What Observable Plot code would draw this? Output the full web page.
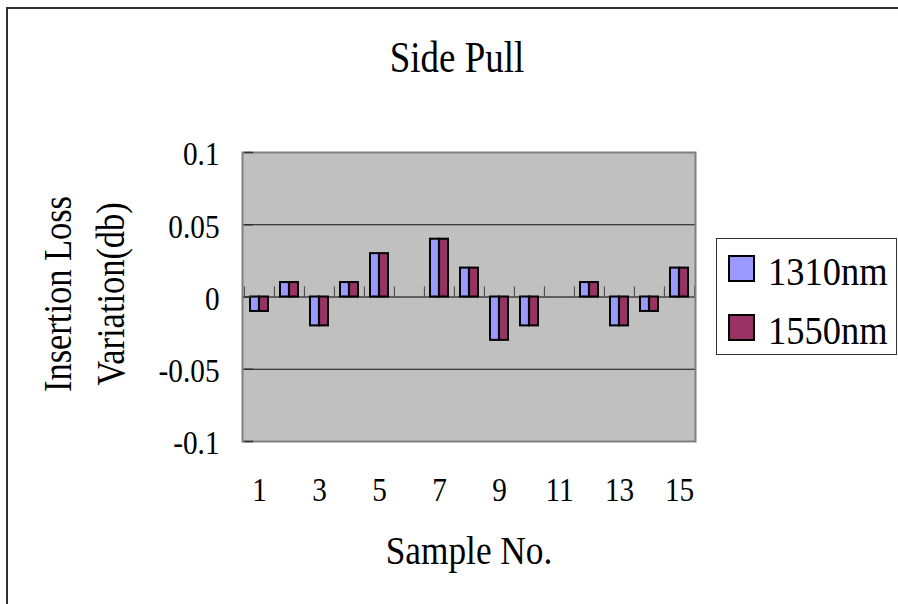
<!DOCTYPE html>
<html>
<head>
<meta charset="utf-8">
<script src="https://cdn.jsdelivr.net/npm/d3@7"></script>
<script src="https://cdn.jsdelivr.net/npm/@observablehq/plot@0.6"></script>
<style>
  html, body { margin: 0; padding: 0; background: #fff; }
  #wrap { position: relative; width: 898px; height: 604px; overflow: hidden; font-family: "Liberation Serif", serif; color: #000; }
  #wrap svg { position: absolute; left: 0; top: 0; }
  .frame { position: absolute; left: 6px; top: 7px; width: 1000px; height: 1000px; border-left: 2px solid #303030; border-top: 2px solid #303030; }
  .title { position: absolute; left: 257px; width: 400px; top: 35px; text-align: center; font-size: 45px; line-height: 45px; transform: scaleX(0.82); transform-origin: 200px 0; white-space: nowrap; }
  .legend { position: absolute; left: 716px; top: 238px; width: 181px; height: 117px; box-sizing: border-box; border: 1.5px solid #333; background: #fff; }
  .sw { position: absolute; left: 728px; width: 27px; height: 27px; box-sizing: border-box; border: 2px solid #000; }
  .lt { position: absolute; left: 768px; font-size: 41px; line-height: 41px; white-space: nowrap; transform: scaleX(0.89); transform-origin: 0 0; }
</style>
</head>
<body>
<div id="wrap"></div>
<script>
const titleText = "Side Pull";
const samples = [1, 2, 3, 4, 5, 6, 7, 8, 9, 10, 11, 12, 13, 14, 15];
const loss1310 = [-0.01, 0.01, -0.02, 0.01, 0.03, 0, 0.04, 0.02, -0.03, -0.02, 0, 0.01, -0.02, -0.01, 0.02];
const loss1550 = [-0.01, 0.01, -0.02, 0.01, 0.03, 0, 0.04, 0.02, -0.03, -0.02, 0, 0.01, -0.02, -0.01, 0.02];
const series = ["1310nm", "1550nm"];
const seriesColors = ["#9999FF", "#993366"];
const xTickLabels = [1, 3, 5, 7, 9, 11, 13, 15];
const yTicks = [-0.1, -0.05, 0, 0.05, 0.1];
const yTickLabels = ["-0.1", "-0.05", "0", "0.05", "0.1"];
const xTitle = "Sample No.";
const yTitle = "Insertion Loss\nVariation(db)";

const rows1310 = samples.map((s, i) => ({sample: s, value: loss1310[i]}));
const rows1550 = samples.map((s, i) => ({sample: s, value: loss1550[i]}));

const font = "Liberation Serif";

const chart = Plot.plot({
  width: 898,
  height: 604,
  marginLeft: 242,
  marginRight: 203,
  marginTop: 152,
  marginBottom: 163,
  style: {fontFamily: font, fontSize: "34px", color: "#000", background: "transparent", overflow: "visible"},
  x: {type: "band", domain: samples, padding: 0},
  y: {domain: [-0.1, 0.1]},
  marks: [
    Plot.frame({fill: "#C0C0C0"}),
    Plot.ruleY([0.05, -0.05], {stroke: "#111", strokeWidth: 1.2}),
    Plot.ruleY([0], {stroke: "#404040", strokeWidth: 1.5}),
    Plot.ruleX(samples, {x: d => d, y1: 0, y2: 0.007, dx: -15.1, stroke: "#404040", strokeWidth: 1}),
    Plot.ruleX([samples[samples.length - 1]], {x: d => d, y1: 0, y2: 0.007, dx: 15.1, stroke: "#404040", strokeWidth: 1}),
    Plot.barY(rows1310, {x: "sample", y1: 0, y2: "value", fill: seriesColors[0], stroke: "#000", strokeWidth: 2, insetLeft: 6, insetRight: 15.1}),
    Plot.barY(rows1550, {x: "sample", y1: 0, y2: "value", fill: seriesColors[1], stroke: "#000", strokeWidth: 2, insetLeft: 15.1, insetRight: 6}),
    Plot.frame({stroke: "#808080", strokeWidth: 2}),
    Plot.ruleY(yTicks, {y: d => d, x1: samples[0], x2: samples[0], insetRight: 21, stroke: "#303030", strokeWidth: 1.5}),
    Plot.axisY({ticks: yTicks, tickSize: 0, tickPadding: 23, label: null, dy: 2, fontSize: 34, fontFamily: font,
      tickFormat: d => yTickLabels[yTicks.indexOf(d)]}),
    Plot.axisX({ticks: xTickLabels, tickSize: 0, tickPadding: 35, label: null, fontSize: 34, fontFamily: font}),
    Plot.text([xTitle], {text: d => d, frameAnchor: "bottom", textAnchor: "middle", lineAnchor: "middle", dy: 109, fontSize: 41, fontFamily: font}),
    Plot.text([yTitle], {text: d => d, frameAnchor: "left", textAnchor: "middle", lineAnchor: "middle", rotate: -90, dx: -162, dy: -3, lineHeight: 1.33, fontSize: 40, fontFamily: font})
  ]
});

const wrap = document.getElementById("wrap");
wrap.appendChild(chart);

// Narrow the serif glyphs (the original face is tall and narrow)
const narrow = 0.86;
chart.querySelectorAll("text").forEach(el => {
  const spans = el.querySelectorAll("tspan");
  const targets = spans.length ? Array.from(spans) : [el];
  targets.forEach(t => {
    const L = t.getComputedTextLength();
    if (L > 0) {
      t.setAttribute("textLength", (L * narrow).toFixed(2));
      t.setAttribute("lengthAdjust", "spacingAndGlyphs");
    }
  });
});

const frame = document.createElement("div");
frame.className = "frame";
wrap.appendChild(frame);

const t = document.createElement("div");
t.className = "title";
t.textContent = titleText;
wrap.appendChild(t);

const lg = document.createElement("div");
lg.className = "legend";
wrap.appendChild(lg);
const swTops = [255, 314];
series.forEach((name, i) => {
  const sw = document.createElement("div");
  sw.className = "sw";
  sw.style.top = swTops[i] + "px";
  sw.style.background = seriesColors[i];
  wrap.appendChild(sw);
  const lt = document.createElement("div");
  lt.className = "lt";
  lt.style.top = (swTops[i] - 4) + "px";
  lt.textContent = name;
  wrap.appendChild(lt);
});
</script>
</body>
</html>
